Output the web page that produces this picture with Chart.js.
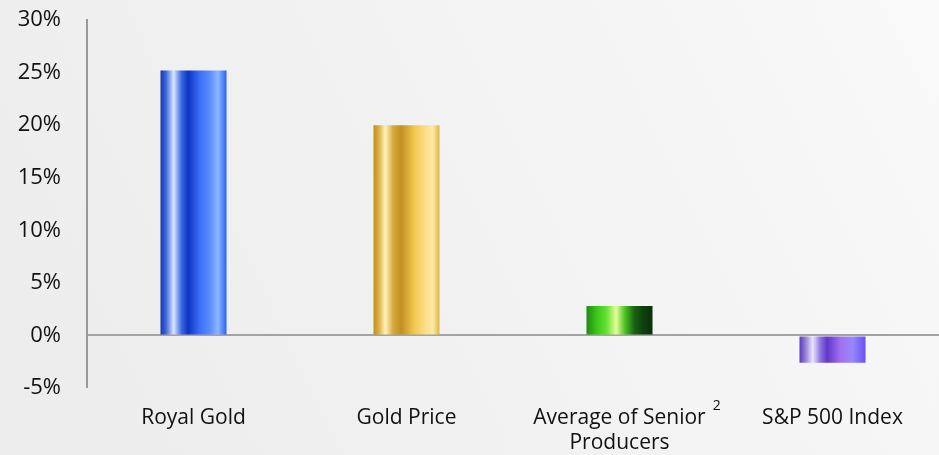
<!DOCTYPE html>
<html>
<head>
<meta charset="utf-8">
<script src="https://cdn.jsdelivr.net/npm/chart.js@4"></script>
<style>
html,body{margin:0;padding:0;background:#f2f2f2;}
#wrap{width:939px;height:455px;position:relative;}
</style>
</head>
<body>
<div id="wrap"><canvas id="c" width="939" height="455"></canvas></div>
<script>
const categories = [["Royal Gold"], ["Gold Price"], ["Average of Senior", "Producers"], ["S&P 500 Index"]];
const returnsPct = [25.2, 20.0, 2.8, -2.6];
const yTicks = [-5, 0, 5, 10, 15, 20, 25, 30];
const footnoteMarks = ["", "", "2", ""];

const gradientStops = [
  [[0,'#1838b0'],[0.08,'#3a64d8'],[0.2,'#d8e6ff'],[0.32,'#3a66e0'],[0.42,'#0c34c4'],[0.6,'#3e70f8'],[0.75,'#5a8cff'],[0.87,'#8ab8ff'],[1,'#2a62f4']],
  [[0,'#c0901c'],[0.08,'#dcae40'],[0.18,'#fff2be'],[0.3,'#d8a838'],[0.42,'#c09024'],[0.62,'#f2c850'],[0.8,'#fbe08c'],[0.9,'#fde9a8'],[1,'#e2b440']],
  [[0,'#1e8a0e'],[0.15,'#3cc41c'],[0.3,'#64e030'],[0.45,'#e4ff98'],[0.58,'#4cc424'],[0.72,'#1a6414'],[0.85,'#0e420c'],[1,'#0a300a']],
  [[0,'#5a3cbc'],[0.1,'#9a88d8'],[0.2,'#ece4ff'],[0.32,'#8a70e0'],[0.42,'#6038c8'],[0.62,'#a070f0'],[0.8,'#9888ff'],[1,'#6a50f0']]
];

const BAR_PCT = 0.31;

function barFill(ctx) {
  const chart = ctx.chart;
  const xs = chart.scales && chart.scales.x;
  if (!chart.chartArea || !xs) return '#888';
  const i = ctx.dataIndex;
  const cx = xs.getPixelForValue(i);
  const w = (xs.width / categories.length) * BAR_PCT;
  const g = chart.ctx.createLinearGradient(cx - w / 2, 0, cx + w / 2, 0);
  gradientStops[i].forEach(s => g.addColorStop(s[0], s[1]));
  return g;
}

const bgPlugin = {
  id: 'bg',
  beforeDraw(chart) {
    const c = chart.ctx;
    const g = c.createLinearGradient(0, chart.height, chart.width, 0);
    g.addColorStop(0, '#ececec');
    g.addColorStop(0.5, '#f2f2f2');
    g.addColorStop(1, '#f9f9f9');
    c.save();
    c.fillStyle = g;
    c.fillRect(0, 0, chart.width, chart.height);
    c.restore();
  }
};

const supPlugin = {
  id: 'sup',
  afterDraw(chart) {
    const xs = chart.scales.x;
    const c = chart.ctx;
    c.save();
    c.fillStyle = '#111';
    c.textAlign = 'left';
    c.textBaseline = 'middle';
    footnoteMarks.forEach((m, i) => {
      if (!m) return;
      const cx = xs.getPixelForValue(i);
      c.font = '21px "Open Sans"';
      const lw = c.measureText(categories[i][0]).width;
      c.font = '14px "Open Sans"';
      c.fillText(m, cx + lw / 2 + 7, chart.chartArea.bottom + 18);
    });
    c.restore();
  }
};

new Chart(document.getElementById('c'), {
  type: 'bar',
  data: {
    labels: categories,
    datasets: [{
      data: returnsPct,
      backgroundColor: barFill,
      borderWidth: 0,
      barPercentage: BAR_PCT,
      categoryPercentage: 1
    }]
  },
  options: {
    responsive: false,
    animation: false,
    layout: { padding: { top: 20, right: 0, bottom: 0, left: 0 } },
    plugins: { legend: { display: false }, tooltip: { enabled: false } },
    scales: {
      x: {
        grid: { display: false, drawTicks: false },
        border: { display: false },
        ticks: {
          color: '#111',
          font: { family: 'Open Sans', size: 21, lineHeight: 1.2 },
          padding: 17,
          maxRotation: 0,
          autoSkip: false
        },
        afterFit(s) { s.height = 67; s.paddingLeft = 0; s.paddingRight = 0; }
      },
      y: {
        min: -5, max: 30,
        afterBuildTicks(s) { s.ticks = yTicks.map(v => ({ value: v })); },
        grid: {
          drawTicks: false,
          color: c => (c.tick && c.tick.value === 0) ? '#a3a3a3' : 'rgba(0,0,0,0)',
          lineWidth: c => (c.tick && c.tick.value === 0) ? 2 : 0
        },
        border: { display: true, color: '#999', width: 2 },
        ticks: {
          color: '#111',
          font: { family: 'Open Sans', size: 22 },
          padding: 26,
          callback: v => v + '%'
        },
        afterFit(s) { s.width = 87; s.paddingTop = 0; s.paddingBottom = 0; }
      }
    }
  },
  plugins: [bgPlugin, supPlugin]
});
</script>
</body>
</html>
